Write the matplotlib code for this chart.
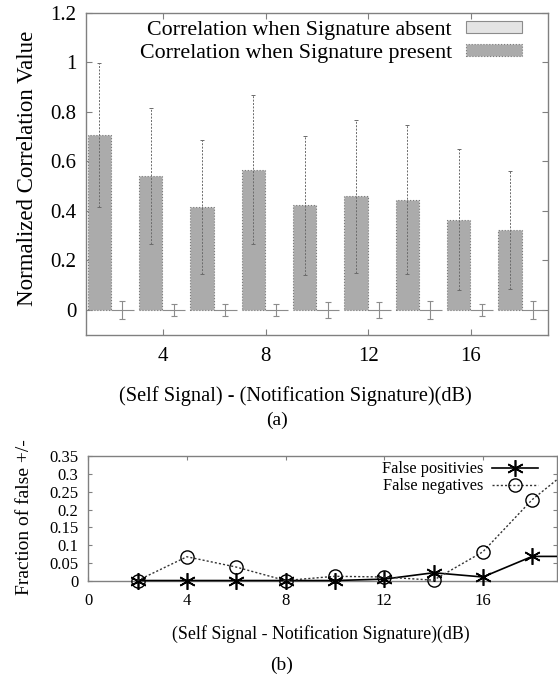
import numpy as np
import matplotlib.pyplot as plt
from matplotlib.transforms import Bbox, TransformedBbox

plt.rcParams['font.family'] = ['Liberation Serif', 'DejaVu Serif']

# ---- data (a)
groups = [2, 4, 6, 8, 10, 12, 14, 16, 18]
present = [0.708, 0.541, 0.416, 0.567, 0.423, 0.459, 0.446, 0.364, 0.323]
present_err = [0.29, 0.274, 0.27, 0.30, 0.28, 0.31, 0.30, 0.285, 0.24]
absent = [0.0, 0.0, 0.0, 0.0, 0.0, 0.0, 0.0, 0.0, 0.0]
absent_err = [0.036, 0.024, 0.024, 0.023, 0.031, 0.031, 0.038, 0.023, 0.038]

# ---- data (b)
snr = [2, 4, 6, 8, 10, 12, 14, 16, 18, 20]
false_pos = [0.0, 0.0, 0.0, 0.0, 0.0, 0.004, 0.022, 0.010, 0.068, 0.068]
false_neg = [0.0, 0.067, 0.038, 0.0, 0.012, 0.010, 0.001, 0.081, 0.228, 0.34]

frame_col = '#808080'

fig = plt.figure(figsize=(5.58, 6.79), dpi=100)

# ------------------------------------------------------------ (a)
ax = fig.add_axes([0.154, 0.507, 0.828, 0.474])
x = np.array(groups, dtype=float)
w = 0.9
ax.bar(x + 0.42, absent, w, color='#e4e4e4', edgecolor='#8c8c8c', linewidth=0.8,
       label='Correlation when Signature absent', zorder=2)
ax.bar(x - 0.48, present, w, color='#ababab', edgecolor='#7a7a7a', linewidth=0.8,
       linestyle=':', label='Correlation when Signature present', zorder=2)
eb = ax.errorbar(x - 0.48, present, yerr=present_err, fmt='none', ecolor='#6a6a6a',
                 elinewidth=0.7, capsize=1.5, capthick=0.7, zorder=3)
eb[2][0].set_linestyle((0, (2, 1.5)))
ax.errorbar(x + 0.42, absent, yerr=absent_err, fmt='none', ecolor='#8c8c8c',
            elinewidth=0.8, capsize=2.5, capthick=0.8, zorder=3)

ax.set_xlim(1, 19)
ax.set_ylim(-0.1, 1.2)
ax.set_xticks([4, 8, 12, 16])
ax.set_yticks([0, 0.2, 0.4, 0.6, 0.8, 1.0, 1.2])
ax.set_yticklabels(['0', '0.2', '0.4', '0.6', '0.8', '1', '1.2'])
ax.tick_params(direction='in', top=True, right=True, labelsize=15,
               color=frame_col, length=4, width=0.8)
ax.tick_params(axis='x', pad=9)
ax.tick_params(axis='y', pad=7)
for s in ax.spines.values():
    s.set_color(frame_col)
    s.set_linewidth(1.0)

ax.set_ylabel('Normalized Correlation Value', fontsize=16.5)
ax.yaxis.set_label_coords(-0.104, 0.517)
ax.set_xlabel('(Self Signal) - (Notification Signature)(dB)', fontsize=14.7)
ax.xaxis.label.set_va('center')
ax.xaxis.set_label_coords(0.453, -0.19)

ax.legend(loc='upper right', bbox_to_anchor=(0.944, 0.975), frameon=False,
          markerfirst=False, fontsize=15.8, handlelength=2.55, handleheight=0.45,
          handletextpad=0.65, labelspacing=0.19, borderaxespad=0, borderpad=0)

fig.text(0.496, 1 - 420 / 679, '(a)', ha='center', va='center', fontsize=14)

# ------------------------------------------------------------ (b)
bx = fig.add_axes([0.158, 0.145, 0.840, 0.183])
l1, = bx.plot(snr, false_pos, color='black', linewidth=1.2, marker=(6, 2, 0),
              markersize=12, markeredgewidth=1.2, label='False positivies', zorder=3)
l2, = bx.plot(snr, false_neg, color='#333333', linewidth=1.0, linestyle=(0, (1.5, 1.5)),
              marker='o', markersize=9.5, markerfacecolor='none', markeredgecolor='black',
              markeredgewidth=1.0, label='False negatives', zorder=3)
# clip only left/right so markers sitting on y=0 stay whole
clipbox = TransformedBbox(Bbox([[0, -0.3], [1, 1.3]]), bx.transAxes)
for ln in (l1, l2):
    ln.set_clip_box(clipbox)

bx.set_xlim(0, 19)
bx.set_ylim(0, 0.35)
bx.set_xticks([0, 4, 8, 12, 16])
bx.set_yticks([0, 0.05, 0.1, 0.15, 0.2, 0.25, 0.3, 0.35])
bx.set_yticklabels(['0', '0.05', '0.1', '0.15', '0.2', '0.25', '0.3', '0.35'])
bx.tick_params(direction='in', top=True, right=True, labelsize=12,
               color=frame_col, length=3, width=0.8)
bx.tick_params(axis='x', pad=9)
bx.tick_params(axis='y', pad=7)
for s in bx.spines.values():
    s.set_color(frame_col)
    s.set_linewidth(1.0)

bx.set_ylabel('Fraction of false +/-', fontsize=14)
bx.yaxis.set_label_coords(-0.118, 0.514)
bx.set_xlabel('(Self Signal - Notification Signature)(dB)', fontsize=12.9)
bx.xaxis.label.set_va('center')
bx.xaxis.set_label_coords(0.497, -0.43)

bx.legend(loc='upper right', bbox_to_anchor=(0.959, 0.96), frameon=False,
          markerfirst=False, fontsize=11.7, handlelength=2.8, handletextpad=0.55,
          labelspacing=0.07, borderaxespad=0, borderpad=0)

fig.text(0.505, 1 - 665 / 679, '(b)', ha='center', va='center', fontsize=14)

fig.savefig('out.png', dpi=100)
